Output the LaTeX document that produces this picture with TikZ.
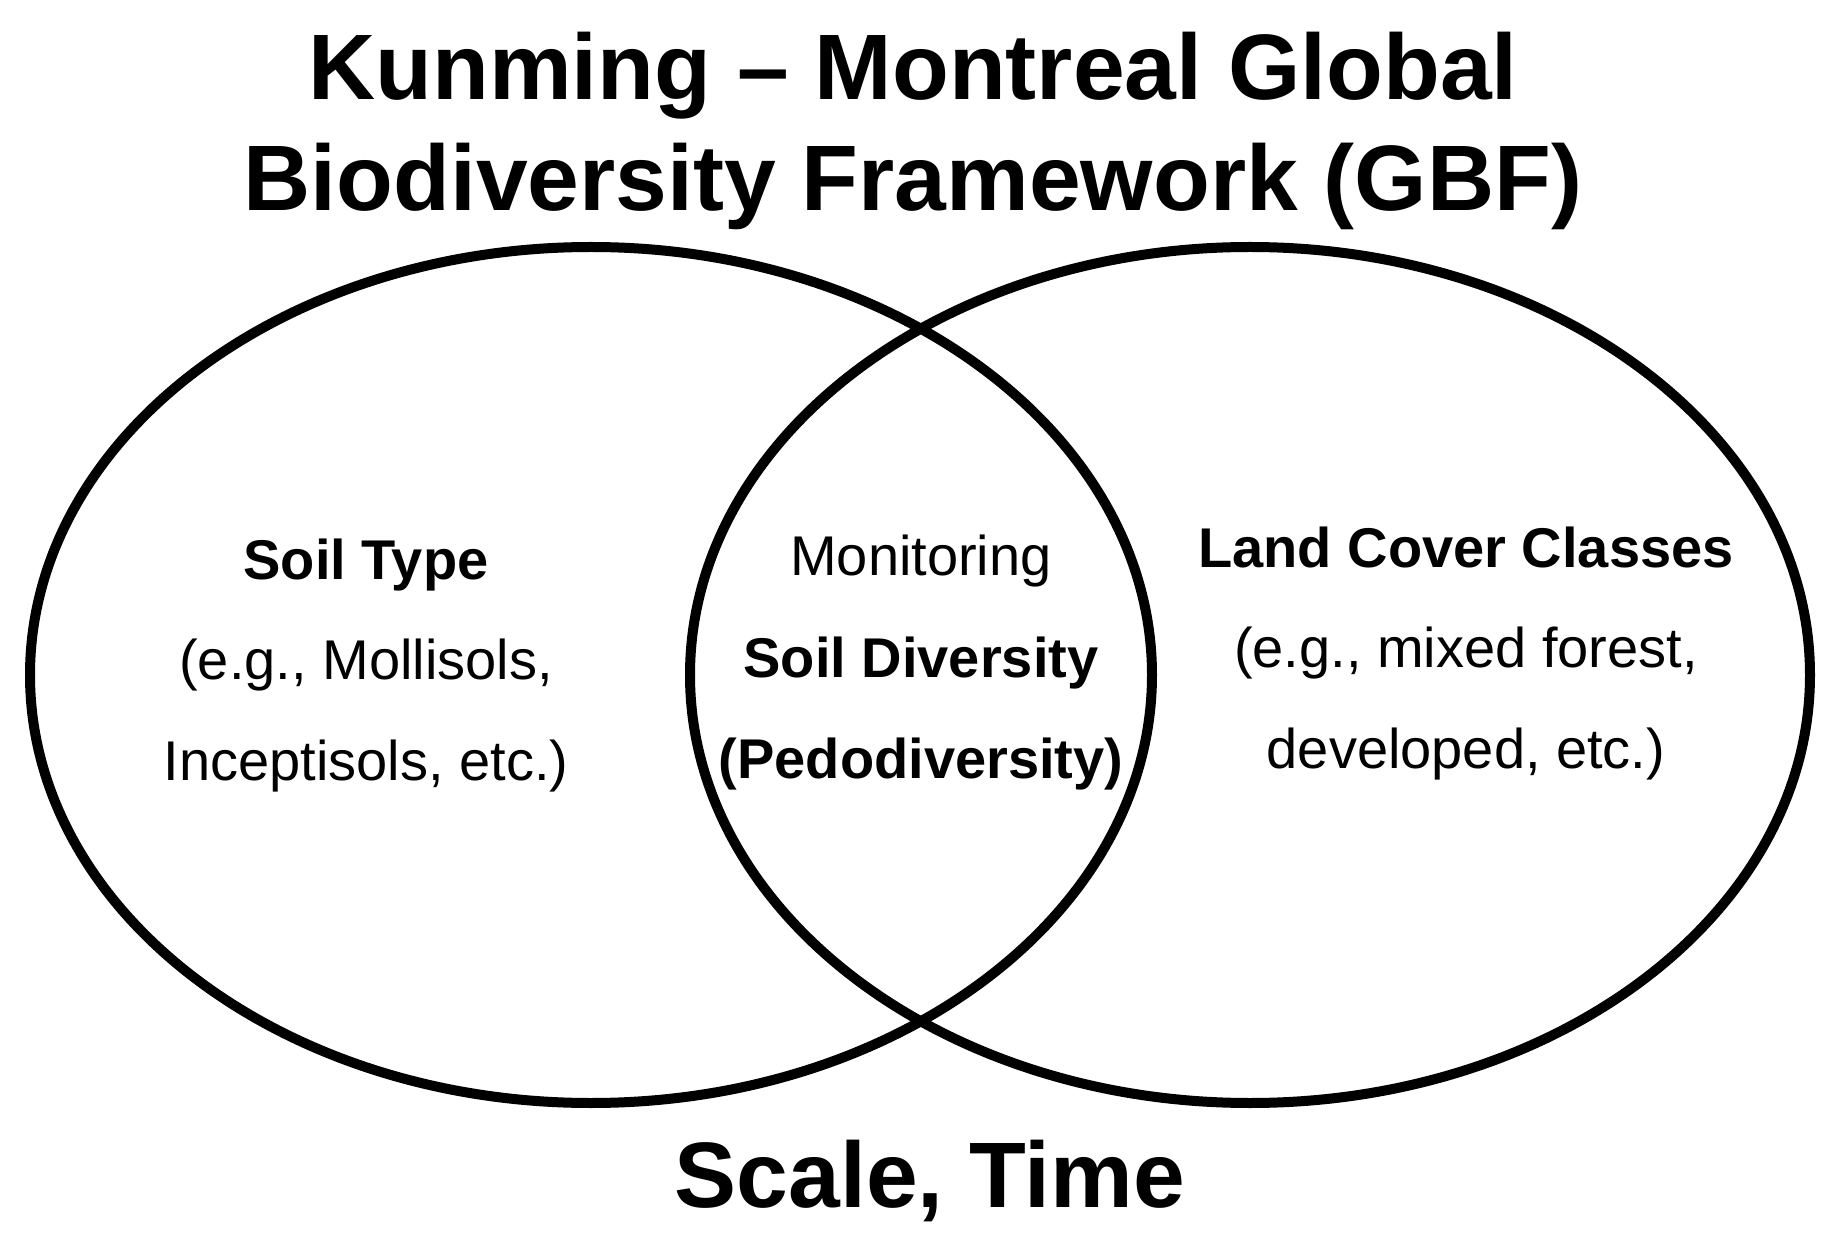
\documentclass[tikz,border=0pt]{standalone}
\usepackage{fontspec}
\setmainfont{Liberation Sans}
\begin{document}
\begin{tikzpicture}[x=0.5pt,y=-0.5pt,
  ring/.style={draw=black,line width=5pt},
  bigtxt/.style={anchor=base,inner sep=0pt,font=\fontsize{46.5}{55}\selectfont\bfseries},
  bodytxt/.style={anchor=base,inner sep=0pt,font=\fontsize{28}{33}\selectfont},
  boldtxt/.style={bodytxt,font=\fontsize{28}{33}\selectfont\bfseries}]
\useasboundingbox[fill=white] (0,0) rectangle (1838,1251);
% ellipses
\draw[ring] (591,675) ellipse [x radius=280.5pt, y radius=214pt];
\draw[ring] (1250,675) ellipse [x radius=280pt, y radius=214pt];
% title
\node[bigtxt] (t1) at (913,100) {Kunming – Montreal Global};
\node[bigtxt] (t2) at (913,211) {Biodiversity Framework (GBF)};
% left
\node[boldtxt] (l1) at (366,580) {Soil Type};
\node[bodytxt] (l2) at (366,680) {(e.g., Mollisols,};
\node[bodytxt] (l3) at (366,780) {Inceptisols, etc.)};
% middle
\node[bodytxt] (m1) at (921,575) {Monitoring};
\node[boldtxt] (m2) at (921,677) {Soil Diversity};
\node[boldtxt] (m3) at (921,778) {(Pedodiversity)};
% right
\node[boldtxt] (r1) at (1466,568) {Land Cover Classes};
\node[bodytxt] (r2) at (1466,668) {(e.g., mixed forest,};
\node[bodytxt] (r3) at (1466,768) {developed, etc.)};
% bottom
\node[bigtxt] (b1) at (930,1207) {Scale, Time};
\end{tikzpicture}
\end{document}
